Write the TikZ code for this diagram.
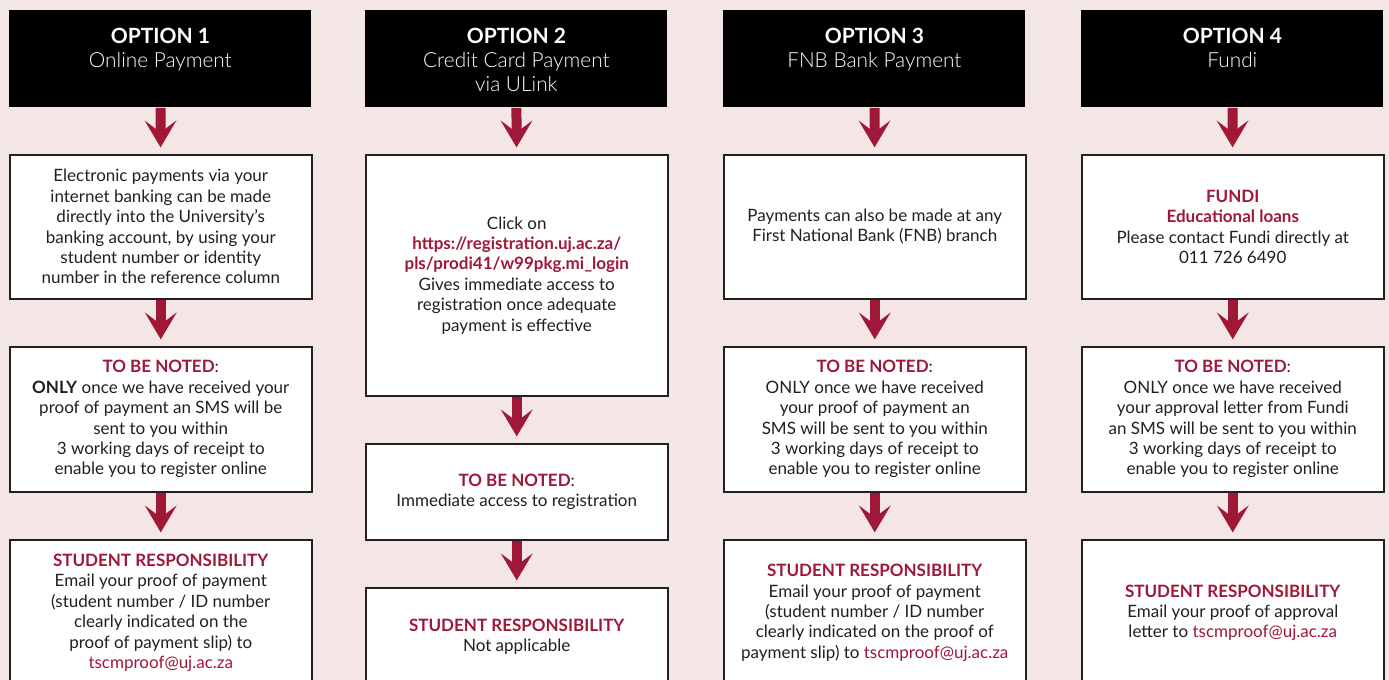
\documentclass[tikz,border=0pt]{standalone}
\usepackage{fontspec}
\setmainfont{Lato}
\newfontfamily\lightfont{Lato Light}
\usetikzlibrary{arrows.meta}
\definecolor{ujred}{RGB}{160,24,56}
\definecolor{bgpink}{RGB}{245,230,230}
\definecolor{ink}{RGB}{35,31,32}
\newcommand{\hl}[1]{\textcolor{ujred}{\textbf{#1}}}
\newcommand{\mail}{\textcolor{ujred}{tscmproof@uj.ac.za}}
\newcommand{\opt}[2]{\parbox[c][48.5pt][t]{151pt}{\centering\fontsize{10.5pt}{12pt}\selectfont\rule{0pt}{16.5pt}\textbf{OPTION #1}\\ \fontsize{10.4pt}{12pt}\selectfont\lightfont #2}}
\tikzset{
	head/.style={fill=black, text=white, inner sep=0pt, anchor=north west, minimum width=151pt, minimum height=48.5pt},
	box/.style={draw=ink, line width=0.75pt, fill=white, text=ink, inner sep=2pt, anchor=north west, align=center, minimum width=151pt, font=\fontsize{8.5pt}{10.2pt}\selectfont},
	flow/.style={draw=ujred, line width=5pt, -{Stealth[length=13.5pt, width=16pt, inset=6pt, line width=0pt]}, shorten >=3.3pt}
}
\begin{document}
\begin{tikzpicture}
		[x=0.5pt, y=-0.5pt]
		\useasboundingbox (0,0) rectangle (1389,680);
		\clip (0,0) rectangle (1389,680);
		\fill[bgpink] (0,0) rectangle (1389,680);
		% option 1
		\node[head] (h1) at (9,10) {\opt{1}{Online Payment}};
		\node[box, minimum height=72pt] (a1) at (9,154) {Electronic payments via your\\ internet banking can be made\\ directly into the University’s\\ banking account, by using your\\ student number or identity\\ number in the reference column};
		\node[box, minimum height=72.5pt] (b1) at (9,346) {\hl{TO BE NOTED}:\\ \textbf{ONLY} once we have received your\\ proof of payment an SMS will be\\ sent to you within\\ 3 working days of receipt to\\ enable you to register online};
		\node[box, minimum height=73pt] (c1) at (9,539) {\hl{STUDENT RESPONSIBILITY}\\ Email your proof of payment\\ (student number / ID number\\ clearly indicated on the\\ proof of payment slip) to\\ \mail};
		% option 2
		\node[head] (h2) at (365,10) {\opt{2}{Credit Card Payment\\ via ULink}};
		\node[box, minimum height=120.5pt] (a2) at (365,154) {Click on\\ \hl{https://registration.uj.ac.za/}\\ \hl{pls/prodi41/w99pkg.mi\_login}\\ Gives immediate access to\\ registration once adequate\\ payment is effective};
		\node[box, minimum height=48pt] (b2) at (365,443) {\hl{TO BE NOTED}:\\ Immediate access to registration};
		\node[box, minimum height=49pt] (c2) at (365,587) {\hl{STUDENT RESPONSIBILITY}\\ Not applicable};
		% option 3
		\node[head] (h3) at (723,10) {\opt{3}{FNB Bank Payment}};
		\node[box, minimum height=72pt] (a3) at (723,154) {Payments can also be made at any\\ First National Bank (FNB) branch};
		\node[box, minimum height=72.5pt] (b3) at (723,346) {\hl{TO BE NOTED}:\\ ONLY once we have received\\ your proof of payment an\\ SMS will be sent to you within\\ 3 working days of receipt to\\ enable you to register online};
		\node[box, minimum height=73pt] (c3) at (723,539) {\hl{STUDENT RESPONSIBILITY}\\ Email your proof of payment\\ (student number / ID number\\ clearly indicated on the proof of\\ payment slip) to \mail};
		% option 4
		\node[head] (h4) at (1081,10) {\opt{4}{Fundi}};
		\node[box, minimum height=72pt] (a4) at (1081,154) {\hl{FUNDI}\\ \hl{Educational loans}\\ Please contact Fundi directly at\\ 011 726 6490};
		\node[box, minimum height=72.5pt] (b4) at (1081,346) {\hl{TO BE NOTED}:\\ ONLY once we have received\\ your approval letter from Fundi\\ an SMS will be sent to you within\\ 3 working days of receipt to\\ enable you to register online};
		\node[box, minimum height=73pt] (c4) at (1081,539) {\hl{STUDENT RESPONSIBILITY}\\ Email your proof of approval\\ letter to \mail};
		% arrows
		\draw (h1) edge[flow] (a1) (a1) edge[flow] (b1) (b1) edge[flow] (c1);
		\draw (h2) edge[flow] (a2) (a2) edge[flow] (b2) (b2) edge[flow] (c2);
		\draw (h3) edge[flow] (a3) (a3) edge[flow] (b3) (b3) edge[flow] (c3);
		\draw (h4) edge[flow] (a4) (a4) edge[flow] (b4) (b4) edge[flow] (c4);
	\end{tikzpicture}
\end{document}
